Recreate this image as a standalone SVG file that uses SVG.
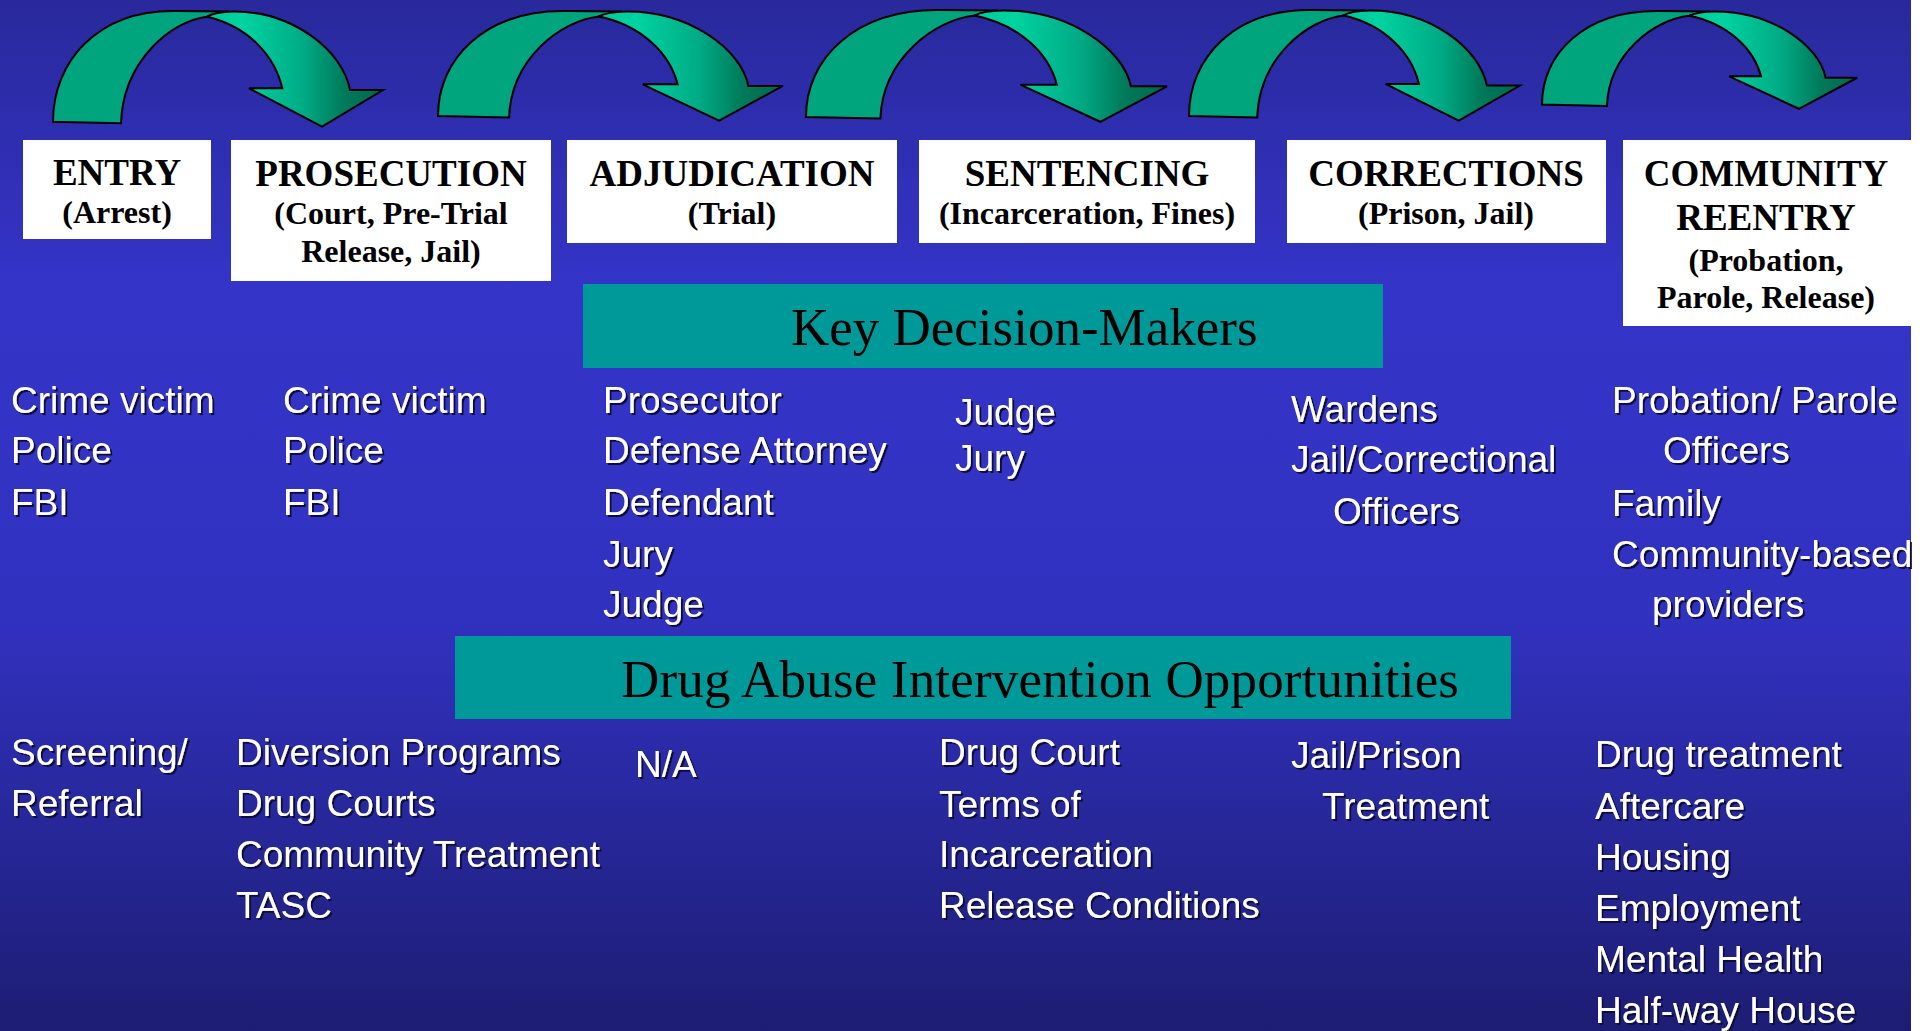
<svg xmlns="http://www.w3.org/2000/svg" width="1929" height="1031" viewBox="0 0 1929 1031">
<defs>
<linearGradient id="bg" x1="0" y1="0" x2="0" y2="1">
<stop offset="0" stop-color="#29299C"/>
<stop offset="0.28" stop-color="#3434C8"/>
<stop offset="0.6" stop-color="#3131C0"/>
<stop offset="1" stop-color="#1D1D74"/>
</linearGradient>
<linearGradient id="front" x1="0" y1="0" x2="1" y2="0">
<stop offset="0" stop-color="#00C896"/>
<stop offset="0.2" stop-color="#00D4A0"/>
<stop offset="0.55" stop-color="#00AA84"/>
<stop offset="0.78" stop-color="#007A5A"/>
<stop offset="1" stop-color="#00664C"/>
</linearGradient>
<filter id="sh" x="-5%" y="-5%" width="110%" height="110%">
<feDropShadow dx="2" dy="2" stdDeviation="0.6" flood-color="#0c0c3c" flood-opacity="1"/>
</filter>
<g id="arrow">
<path class="back" d="M 0,110.7 C 0,50 45,0 120,0 L 176,0.5 L 154,5.7 C 118,10 70,50 68,112.3 Z"/>
<path class="front" d="M 154,5.7 C 160,2 168,0.7 180,0.5 C 240,0 290,40 297,79 L 330,79 L 269,115.7 L 196,77.3 L 229.3,77.3 C 222,45 195,15 154,5.7 Z"/>
</g>
</defs>
<style>
.back{fill:#00A57E;stroke:#000;stroke-width:2;vector-effect:non-scaling-stroke;stroke-linejoin:miter}
.front{fill:url(#front);stroke:#000;stroke-width:2;vector-effect:non-scaling-stroke;stroke-linejoin:miter}
.box{fill:#FFFFFF}
.teal{fill:#009999}
.h1{font-family:"Liberation Serif","Times New Roman",serif;font-weight:bold;font-size:37px;fill:#000;text-anchor:middle}
.h2{font-family:"Liberation Serif","Times New Roman",serif;font-weight:bold;font-size:32px;fill:#000;text-anchor:middle}
.tt{font-family:"Liberation Serif","Times New Roman",serif;font-size:53px;fill:#000}
.li{font-family:"Liberation Sans",Arial,sans-serif;font-size:37px;fill:#FFFFFF}
</style>
<rect x="0" y="0" width="1929" height="1031" fill="url(#bg)"/>
<rect x="1911" y="0" width="18" height="1031" fill="#FFFFFF"/>

<g id="connectors">
<use href="#arrow" transform="translate(53,11)"/>
<use href="#arrow" transform="translate(438,11) scale(1.045,0.948)"/>
<use href="#arrow" transform="translate(806,10) scale(1.094,0.966)"/>
<use href="#arrow" transform="translate(1189,10) scale(1.003,0.957)"/>
<use href="#arrow" transform="translate(1542,11) scale(0.955,0.845)"/>
</g>

<g id="entry">
<rect class="box" x="23" y="140" width="188" height="99"/>
<text class="h1" x="117" y="185">ENTRY</text>
<text class="h2" x="117" y="223">(Arrest)</text>
</g>
<g id="prosecution">
<rect class="box" x="231" y="140" width="320" height="141"/>
<text class="h1" x="391" y="186">PROSECUTION</text>
<text class="h2" x="391" y="224">(Court, Pre-Trial</text>
<text class="h2" x="391" y="262">Release, Jail)</text>
</g>
<g id="adjudication">
<rect class="box" x="567" y="140" width="330" height="103"/>
<text class="h1" x="732" y="186">ADJUDICATION</text>
<text class="h2" x="732" y="224">(Trial)</text>
</g>
<g id="sentencing">
<rect class="box" x="919" y="140" width="336" height="103"/>
<text class="h1" x="1087" y="186">SENTENCING</text>
<text class="h2" x="1087" y="224">(Incarceration, Fines)</text>
</g>
<g id="corrections">
<rect class="box" x="1287" y="140" width="319" height="103"/>
<text class="h1" x="1446" y="186">CORRECTIONS</text>
<text class="h2" x="1446" y="224">(Prison, Jail)</text>
</g>
<g id="reentry">
<rect class="box" x="1623" y="140" width="288" height="186"/>
<text class="h1" x="1766" y="186">COMMUNITY</text>
<text class="h1" x="1766" y="230">REENTRY</text>
<text class="h2" x="1766" y="271">(Probation,</text>
<text class="h2" x="1766" y="308">Parole, Release)</text>
</g>

<g id="key-decision-makers">
<rect class="teal" x="583" y="284" width="800" height="84"/>
<text class="tt" x="791" y="345">Key Decision-Makers</text>
</g>
<g id="drug-abuse-intervention">
<rect class="teal" x="455" y="636" width="1056" height="83"/>
<text class="tt" x="621" y="697" textLength="838" lengthAdjust="spacing">Drug Abuse Intervention Opportunities</text>
</g>

<g filter="url(#sh)">
<g id="dm-entry" class="li">
<text x="11" y="413">Crime victim</text>
<text x="11" y="463">Police</text>
<text x="11" y="515">FBI</text>
</g>
<g id="dm-prosecution" class="li">
<text x="283" y="413">Crime victim</text>
<text x="283" y="463">Police</text>
<text x="283" y="515">FBI</text>
</g>
<g id="dm-adjudication" class="li">
<text x="603" y="413">Prosecutor</text>
<text x="603" y="463">Defense Attorney</text>
<text x="603" y="515">Defendant</text>
<text x="603" y="567">Jury</text>
<text x="603" y="617">Judge</text>
</g>
<g id="dm-sentencing" class="li">
<text x="955" y="425">Judge</text>
<text x="955" y="471">Jury</text>
</g>
<g id="dm-corrections" class="li">
<text x="1291" y="422">Wardens</text>
<text x="1291" y="472">Jail/Correctional</text>
<text x="1333" y="524">Officers</text>
</g>
<g id="dm-reentry" class="li">
<text x="1612" y="413">Probation/ Parole</text>
<text x="1663" y="463">Officers</text>
<text x="1612" y="516">Family</text>
<text x="1612" y="567">Community-based</text>
<text x="1652" y="617">providers</text>
</g>

<g id="op-entry" class="li">
<text x="11" y="765">Screening/</text>
<text x="11" y="816">Referral</text>
</g>
<g id="op-prosecution" class="li">
<text x="236" y="765">Diversion Programs</text>
<text x="236" y="816">Drug Courts</text>
<text x="236" y="867">Community Treatment</text>
<text x="236" y="918">TASC</text>
</g>
<g id="op-adjudication" class="li">
<text x="635" y="777">N/A</text>
</g>
<g id="op-sentencing" class="li">
<text x="939" y="765">Drug Court</text>
<text x="939" y="817">Terms of</text>
<text x="939" y="867">Incarceration</text>
<text x="939" y="918">Release Conditions</text>
</g>
<g id="op-corrections" class="li">
<text x="1291" y="768">Jail/Prison</text>
<text x="1322" y="819">Treatment</text>
</g>
<g id="op-reentry" class="li">
<text x="1595" y="767">Drug treatment</text>
<text x="1595" y="819">Aftercare</text>
<text x="1595" y="870">Housing</text>
<text x="1595" y="921">Employment</text>
<text x="1595" y="972">Mental Health</text>
<text x="1595" y="1023">Half-way House</text>
</g>
</g>
</svg>
